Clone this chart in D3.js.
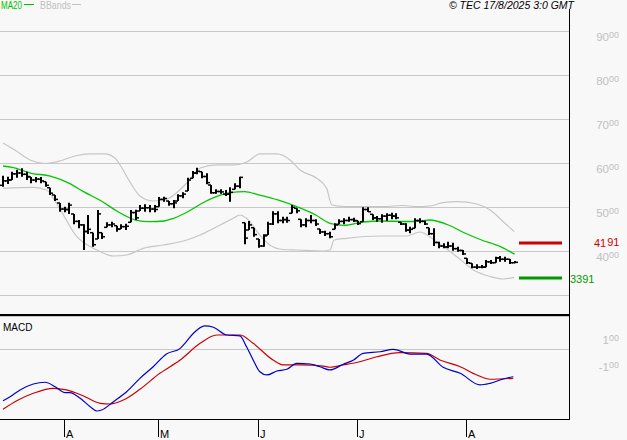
<!DOCTYPE html>
<html><head><meta charset="utf-8">
<script src="https://cdn.jsdelivr.net/npm/d3@7"></script>
<style>body{margin:0;background:#f8f8f8}svg{display:block}</style></head>
<body>
<script>
// ---- DATA ----
const barOpen = [
55.00,56.00,56.20,57.60,57.80,57.50,56.89,56.20,56.40,55.82,
54.45,52.80,50.98,49.60,49.50,48.48,46.80,46.00,44.50,44.23,
42.80,44.23,45.45,46.00,45.82,45.07,45.60,46.59,48.80,49.16,
49.80,49.90,49.60,50.14,51.80,51.43,50.80,51.43,52.60,53.70,
56.59,57.80,58.09,57.00,55.07,53.30,53.60,53.00,53.00,54.09,
54.80,46.50,44.84,45.36,42.80,41.20,43.70,46.20,48.50,47.00,
47.20,48.64,49.77,47.27,46.00,47.00,47.00,45.07,44.40,44.00,
45.00,46.14,46.80,47.00,47.20,46.95,46.73,49.50,48.41,47.60,
47.40,48.00,48.20,48.00,46.59,46.20,44.80,45.23,47.00,46.80,
45.36,44.00,42.00,41.20,41.00,41.20,40.60,40.20,38.41,37.27,
36.40,36.40,36.40,37.60,37.41,38.50,38.20,38.20,37.40];
const barHigh = [
57.18,56.95,58.09,58.55,58.86,58.09,56.89,56.89,56.89,55.82,
54.45,52.80,50.98,50.14,51.05,48.48,47.11,46.14,48.25,44.23,
49.39,44.23,46.59,46.73,45.82,46.14,46.27,49.39,49.45,50.52,
50.68,50.52,50.52,52.34,52.41,51.43,51.66,52.95,53.41,56.73,
58.25,59.00,58.09,57.73,55.07,54.09,54.09,53.93,54.55,55.45,
56.95,46.50,46.89,45.36,42.80,43.86,46.73,49.09,49.09,47.86,
47.86,50.52,49.77,47.27,47.50,48.25,47.27,45.07,44.68,44.45,
46.36,47.27,47.50,47.86,47.64,46.95,50.00,50.00,48.41,48.02,
48.41,48.64,48.77,48.64,46.59,46.36,45.59,47.50,47.50,46.95,
45.36,45.23,42.18,41.82,42.18,41.95,41.05,40.30,38.41,37.27,
37.05,36.89,38.02,38.02,38.77,38.93,38.77,38.25,37.80];
const barLow = [
54.68,55.30,56.20,56.73,56.95,56.20,55.45,55.68,55.45,54.68,
52.80,51.43,49.00,48.86,48.48,46.14,45.23,40.30,43.93,41.05,
42.80,42.80,45.45,45.45,44.45,45.07,44.84,46.59,47.11,49.16,
49.00,48.86,48.86,50.14,51.27,50.36,49.77,51.43,52.05,53.70,
56.59,57.50,56.59,55.23,53.09,53.09,53.09,52.57,51.27,54.09,
54.32,41.59,44.84,43.32,40.82,41.05,43.70,45.98,46.36,46.36,
46.50,48.64,48.64,45.45,45.45,46.36,45.75,43.93,43.48,42.95,
45.00,46.14,46.14,46.73,46.66,45.98,46.73,48.93,47.11,46.73,
46.50,46.89,47.27,47.27,45.98,44.45,44.09,45.23,46.36,45.98,
43.70,41.20,40.68,40.68,40.68,40.14,39.91,39.16,37.11,36.14,
35.98,36.14,36.36,37.11,37.41,37.64,37.64,37.11,37.27];
const barClose = [
56.00,56.20,57.60,57.80,57.50,57.00,56.20,56.40,56.00,55.00,
53.20,51.80,49.60,49.50,50.50,46.80,46.00,44.50,45.00,41.50,
48.50,43.30,46.00,46.20,45.00,45.60,45.70,48.80,47.60,49.80,
49.90,49.60,49.50,51.80,52.00,50.80,51.00,52.60,53.00,56.20,
57.80,58.20,57.00,55.60,53.30,53.60,53.50,53.00,53.40,54.80,
56.80,43.00,46.00,43.80,41.20,43.50,46.20,48.50,47.00,47.20,
47.00,50.00,49.20,46.00,47.00,47.00,46.20,44.40,44.00,43.30,
46.00,46.80,47.00,47.20,47.00,46.30,49.50,49.00,47.60,47.40,
48.00,48.20,48.00,47.60,46.20,44.80,45.00,47.00,46.80,46.20,
44.00,42.00,41.20,41.00,41.20,40.60,40.20,39.40,37.40,36.40,
36.40,36.40,37.60,37.40,38.50,38.20,38.20,37.40,37.50];

const maIdx = [0,2,6,10,14,17,21,24,28,31,34,36,39,42,45,48,51,54,58,62,66,69,72,76,80,85,88,90,94,97,101,105,108];
const maVal = [59.39,59.05,57.73,57.11,55.45,53.55,51.27,49.16,47.11,46.73,46.89,47.50,49.00,50.91,52.41,53.32,53.55,52.80,51.66,50.14,48.25,46.36,45.91,46.66,46.89,46.77,46.89,47.11,45.98,44.39,42.57,41.05,39.32];

const upIdx = [0,2.5,5.7,8.9,12,15.2,18.4,21.5,23.6,25.1,26.8,28.9,31.7,34.6,38.8,41.6,45.2,48.5,51.5,54.2,57.8,60.6,62.7,66.2,68.3,69.4,72.2,80.2,84.4,87.3,90.1,92.9,95.8,100,102.8,105.6,107.9];
const upVal = [64.62,63.03,60.75,59.96,60.52,61.66,62.12,62.12,61.21,58.94,55.75,52.57,51.43,51.89,55.52,58.93,59.62,59.62,60.30,62.12,62.12,60.75,58.48,56.59,54.32,50.52,50.18,50.18,50.41,50.18,50.30,51.05,51.27,50.75,49.39,46.73,44.46];
const loIdx = [0,6.4,9.2,11.3,15.6,19.8,23.3,26.1,29.6,33.8,38.8,41.6,45.1,48.6,50,51.4,54.2,56.3,59.1,62,67.6,69,69.9,72.5,79.6,85.2,88,91.5,95.8,99.3,102.8,105.6,107.9];
const loVal = [54.32,54.55,53.93,50.91,43.32,40.30,38.93,39.16,40.68,41.43,42.57,43.70,45.59,47.50,48.25,47.50,43.70,41.43,40.41,40.30,40.07,40.30,42.57,42.95,43.48,43.48,44.39,42.18,38.77,35.75,34.27,33.70,34.09];

const macdIdx = [0,1.5,3.6,6.4,8.9,11,13.1,14.1,16.3,18.4,19.8,20.8,23.3,26.1,28.9,31.7,34.5,37.4,38.4,40.2,42.6,44.4,47.2,50,51.4,52.8,54.2,55.7,57.8,59.9,62,64.8,66.9,69,71.8,74,76,79.6,82.4,85.9,89.4,92.9,96.5,100.7,102.8,105.6,107.7];
const macdVal = [-3.81,-3.51,-3.01,-2.57,-2.44,-2.77,-3.21,-3.21,-3.63,-4.25,-4.57,-4.50,-3.88,-3.14,-2.15,-1.29,-0.35,0.07,0.44,1.19,1.73,1.63,1.06,0.99,0.19,-0.79,-1.66,-1.90,-1.61,-1.48,-1.04,-1.09,-1.29,-1.53,-1.11,-0.79,-0.30,-0.18,0.00,-0.35,-0.35,-1.33,-1.78,-2.64,-2.52,-2.20,-2.03];
const sigIdx = [0,2.9,6.4,10.6,13.4,17,20.5,22.6,25.4,28.9,33.1,37.4,41.6,45.1,50,52.8,57,59.2,62.7,67.6,69,71.8,75.3,78.9,83.8,89.4,92.2,96.5,100,102.8,107.7];
const sigVal = [-4.44,-3.81,-3.26,-2.89,-3.01,-3.46,-4.00,-4.05,-3.76,-2.96,-1.78,-0.79,0.44,1.06,1.06,0.44,-0.79,-1.16,-1.16,-1.24,-1.33,-1.16,-0.92,-0.55,-0.25,-0.30,-0.79,-1.29,-1.90,-2.22,-2.15];

const gridTicks = [30,40,50,60,70,80,90];
const labelTicks = [40,50,60,70,80,90];
const macdTicks = [1,-1];
const monthLabels = ["A","M","J","J","A"];
const monthIdx = [13,33,54,75,98];
const resistance = 41.91, support = 33.91;

// ---- DRAW ----
const W=627,H=440, axisX=569;
const FONT="'Liberation Sans', Arial, sans-serif";
const svg=d3.select("body").append("svg").attr("width",W).attr("height",H);
svg.append("rect").attr("width",W).attr("height",H).attr("fill","#f8f8f8");

const x=d3.scaleLinear().domain([0,108]).range([3,514.7]);
const y=d3.scaleLinear().domain([40,90]).range([251.3,31.3]);
const ym=d3.scaleLinear().domain([-1,1]).range([362.8,335.8]);
const crisp=v=>Math.round(v)+0.5;

// grid
svg.append("g").selectAll("line").data(gridTicks).join("line")
  .attr("x1",0).attr("x2",axisX).attr("y1",d=>crisp(y(d))).attr("y2",d=>crisp(y(d)))
  .attr("stroke","#c8c8c8").attr("stroke-width",1);
svg.append("line").attr("x1",0).attr("x2",axisX).attr("y1",crisp(ym(0))).attr("y2",crisp(ym(0)))
  .attr("stroke","#c8c8c8");

// price axis labels
const lab=svg.append("g").attr("font-family",FONT).attr("fill","#c0c0c0");
labelTicks.forEach(v=>{
  const t=lab.append("text").attr("x",619).attr("y",y(v)+9.5).attr("text-anchor","end").attr("font-size",11.5);
  t.append("tspan").text(String(v));
  t.append("tspan").attr("font-size",9).attr("dy",-3).text("00");
});
macdTicks.forEach(v=>{
  const t=lab.append("text").attr("x",619).attr("y",ym(v)+8).attr("text-anchor","end").attr("font-size",11.5);
  t.append("tspan").text(String(v));
  t.append("tspan").attr("font-size",9).attr("dy",-3).text("00");
});

// bands
const line=(xs,vs,ys)=>d3.line().x((d,i)=>x(xs[i])).y((d,i)=>ys(vs[i])).curve(d3.curveMonotoneX)(xs);
svg.append("path").attr("d",line(upIdx,upVal,y)).attr("fill","none").attr("stroke","#c6c6c6").attr("stroke-width",1.2);
svg.append("path").attr("d",line(loIdx,loVal,y)).attr("fill","none").attr("stroke","#c6c6c6").attr("stroke-width",1.2);
svg.append("path").attr("d",line(maIdx,maVal,y)).attr("fill","none").attr("stroke","#00c800").attr("stroke-width",1.3);

// OHLC bars
const bars=svg.append("g").attr("stroke","#000");
barHigh.forEach((h,i)=>{
  const bx=Math.round(x(i));
  bars.append("line").attr("x1",bx).attr("x2",bx).attr("y1",y(h)).attr("y2",y(barLow[i])).attr("stroke-width",2);
  bars.append("line").attr("x1",bx-3).attr("x2",bx).attr("y1",y(barOpen[i])).attr("y2",y(barOpen[i])).attr("stroke-width",1.5);
  bars.append("line").attr("x1",bx).attr("x2",bx+3).attr("y1",y(barClose[i])).attr("y2",y(barClose[i])).attr("stroke-width",1.5);
});

// level lines
svg.append("line").attr("x1",519).attr("x2",562).attr("y1",y(resistance)).attr("y2",y(resistance)).attr("stroke","#cc0000").attr("stroke-width",3);
svg.append("line").attr("x1",519).attr("x2",562).attr("y1",y(support)).attr("y2",y(support)).attr("stroke","#009900").attr("stroke-width",3);
const rs=String(resistance.toFixed(2)).split(".");
const rt=svg.append("text").attr("x",594).attr("y",y(resistance)+4.5).attr("font-family",FONT).attr("font-size",11).attr("fill","#cc0000");
rt.append("tspan").text(rs[0]); rt.append("tspan").attr("dx",1).attr("dy",-1).text(rs[1]);
svg.append("text").attr("x",570).attr("y",y(support)+4.5).attr("font-family",FONT).attr("font-size",11).attr("fill","#009900")
  .text(support.toFixed(2).replace(".",""));

// MACD
svg.append("path").attr("d",line(sigIdx,sigVal,ym)).attr("fill","none").attr("stroke","#cc0000").attr("stroke-width",1.2);
svg.append("path").attr("d",line(macdIdx,macdVal,ym)).attr("fill","none").attr("stroke","#0000cc").attr("stroke-width",1.2);
svg.append("text").attr("x",3).attr("y",331).attr("font-family",FONT).attr("font-size",10).attr("fill","#000").text("MACD");

// frame
svg.append("rect").attr("x",0).attr("y",314).attr("width",axisX).attr("height",2.2).attr("fill","#000");
svg.append("line").attr("x1",0).attr("x2",axisX+0.5).attr("y1",419.5).attr("y2",419.5).attr("stroke","#000");
svg.append("line").attr("x1",axisX+0.5).attr("x2",axisX+0.5).attr("y1",9).attr("y2",420).attr("stroke","#000");

// month ticks
monthIdx.forEach((m,k)=>{
  const mx=Math.round(x(m))-0.5;
  svg.append("line").attr("x1",mx).attr("x2",mx).attr("y1",419).attr("y2",437).attr("stroke","#000");
  svg.append("text").attr("x",mx+1.5).attr("y",438).attr("font-family",FONT).attr("font-size",11).attr("fill","#000").text(monthLabels[k]);
});

// legend
svg.append("text").attr("x",1).attr("y",9).attr("font-family",FONT).attr("font-size",10).attr("fill","#00c000")
  .attr("textLength",21).attr("lengthAdjust","spacingAndGlyphs").text("MA20");
svg.append("line").attr("x1",24).attr("x2",34).attr("y1",4.5).attr("y2",4.5).attr("stroke","#00c000");
svg.append("text").attr("x",40).attr("y",9).attr("font-family",FONT).attr("font-size",10).attr("fill","#c0c0c0")
  .attr("textLength",31).attr("lengthAdjust","spacingAndGlyphs").text("BBands");
svg.append("line").attr("x1",72).attr("x2",81).attr("y1",4.5).attr("y2",4.5).attr("stroke","#c0c0c0");

// copyright
svg.append("text").attr("x",574).attr("y",9).attr("text-anchor","end").attr("font-family",FONT).attr("font-style","italic")
  .attr("font-size",10.5).attr("fill","#000").text("© TEC 17/8/2025 3:0 GMT");
</script>
</body></html>
